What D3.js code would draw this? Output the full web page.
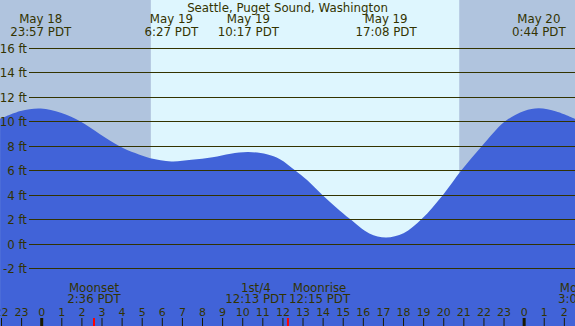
<!DOCTYPE html>
<html>
<head>
<meta charset="utf-8">
<script src="https://cdn.jsdelivr.net/npm/d3@7"></script>
<style>
  html, body { margin: 0; padding: 0; background: #fff; }
  svg { display: block; font-family: "DejaVu Sans", sans-serif; }
  text { fill: #333300; }
</style>
</head>
<body>
<svg class="chart" width="575" height="326"></svg>
<script>

// hours counted from May 19 00:00 PDT
var title = "Seattle, Puget Sound, Washington";

var tideHours = [-2.07, -1.05, -0.05, 0.95, 1.91, 2.9, 3.9, 4.65, 5.4, 6.45, 7.45, 8.5, 9.4, 10.28, 11.2, 11.85, 12.6, 13.2, 13.95, 14.65, 15.34, 16.3, 17.13, 18.0, 18.9, 19.97, 20.88, 21.89, 23.05, 24.0, 24.73, 25.6, 26.53];
var tideFeet  = [10.2, 10.85, 11.05, 10.7, 10.0, 8.95, 7.95, 7.4, 6.98, 6.72, 6.85, 7.06, 7.35, 7.49, 7.3, 6.9, 6.0, 5.2, 4.0, 2.95, 2.0, 0.82, 0.5, 0.84, 2.0, 4.0, 6.0, 7.96, 10.0, 10.85, 11.07, 10.8, 10.2];

var extremeHours = [-0.05, 6.45, 10.28, 17.13, 24.73];
var extremeDates = ["May 18", "May 19", "May 19", "May 19", "May 20"];
var extremeTimes = ["23:57 PDT", "6:27 PDT", "10:17 PDT", "17:08 PDT", "0:44 PDT"];

var sunrise = 5.43, sunset = 20.77;

var moonHours = [2.6, 12.22, 12.25, 27.02];
var moonNames = ["Moonset", "1st/4", "Moonrise", "Moonset"];
var moonTimes = ["2:36 PDT", "12:13 PDT", "12:15 PDT", "3:01 PDT"];
var moonSide  = [0, -1, 1, 0];
var moonTicks = [2.6, 12.25];

var feetTicks = [-2, 0, 2, 4, 6, 8, 10, 12, 14, 16];
var hourTicks = d3.range(-2, 27);

var svg = d3.select(".chart"),
    width = 575,
    height = 326,
    fontSize = "11.8px";

var x = d3.scaleLinear().domain([-2.075, 26.53]).range([0, width]);
var y = d3.scaleLinear().domain([-2, 16]).range([268, 48]);

var tide = tideHours.map(function(h, i) { return [h, tideFeet[i]]; });

// night / day background
svg.append("rect")
    .attr("width", width).attr("height", height)
    .attr("fill", "#b0c4de");

svg.append("rect")
    .attr("x", x(sunrise)).attr("width", x(sunset) - x(sunrise))
    .attr("height", height)
    .attr("fill", "#def6fe");

// water
var area = d3.area()
    .x(function(d) { return x(d[0]); })
    .y0(height)
    .y1(function(d) { return y(d[1]); })
    .curve(d3.curveCatmullRom.alpha(0.5));

svg.append("path")
    .datum(tide)
    .attr("d", area)
    .attr("fill", "#4163d8");

// feet grid
var grid = svg.append("g");

grid.selectAll("line")
    .data(feetTicks)
  .enter().append("line")
    .attr("x1", 29).attr("x2", width)
    .attr("y1", function(d) { return Math.round(y(d)) + 0.5; })
    .attr("y2", function(d) { return Math.round(y(d)) + 0.5; })
    .attr("stroke", "#333300");

grid.selectAll("text")
    .data(feetTicks)
  .enter().append("text")
    .attr("x", 27)
    .attr("y", function(d) { return Math.round(y(d)) + 0.5; })
    .attr("dy", "0.36em")
    .attr("text-anchor", "end")
    .style("font-size", fontSize)
    .text(function(d) { return d + " ft"; });

// title and tide times
svg.append("text")
    .attr("x", 287.5).attr("y", 12)
    .attr("text-anchor", "middle")
    .style("font-size", fontSize)
    .text(title);

var tideLabels = svg.append("g").selectAll("g")
    .data(extremeHours)
  .enter().append("g");

tideLabels.append("text")
    .attr("x", function(d) { return x(d); }).attr("y", 23)
    .attr("text-anchor", "middle")
    .style("font-size", fontSize)
    .text(function(d, i) { return extremeDates[i]; });

tideLabels.append("text")
    .attr("x", function(d) { return x(d); }).attr("y", 36)
    .attr("text-anchor", "middle")
    .style("font-size", fontSize)
    .text(function(d, i) { return extremeTimes[i]; });

// moon events
var moon = svg.append("g").selectAll("g")
    .data(moonHours)
  .enter().append("g");

moon.append("text")
    .attr("y", 292)
    .attr("text-anchor", "middle")
    .style("font-size", fontSize)
    .text(function(d, i) { return moonNames[i]; });

moon.append("text")
    .attr("y", 303)
    .attr("text-anchor", "middle")
    .style("font-size", fontSize)
    .text(function(d, i) { return moonTimes[i]; });

moon.each(function(d, i) {
  var g = d3.select(this),
      w = 0;
  g.selectAll("text").each(function() { w = Math.max(w, this.getComputedTextLength()); });
  var cx = x(d);
  if (moonSide[i] < 0) cx = x(d) - 1 - w / 2;
  if (moonSide[i] > 0) cx = x(d) + 1 + w / 2;
  g.selectAll("text").attr("x", cx);
});

// hour axis
var hours = svg.append("g");

hours.selectAll("text")
    .data(hourTicks)
  .enter().append("text")
    .attr("x", function(d) { return x(d); })
    .attr("y", 316)
    .attr("text-anchor", "middle")
    .style("font-size", "11px")
    .text(function(d) { return (d + 24) % 24; });

hours.selectAll("line")
    .data(hourTicks)
  .enter().append("line")
    .attr("x1", function(d) { return x(d); })
    .attr("x2", function(d) { return x(d); })
    .attr("y1", 318).attr("y2", height)
    .attr("stroke", "#1a1a00")
    .attr("stroke-width", function(d) { return d % 24 === 0 ? 3 : 1; });

svg.append("g").selectAll("line")
    .data(moonTicks)
  .enter().append("line")
    .attr("x1", function(d) { return x(d); })
    .attr("x2", function(d) { return x(d); })
    .attr("y1", 318).attr("y2", height)
    .attr("stroke", "#ff0000")
    .attr("stroke-width", 2);

</script>
</body>
</html>
